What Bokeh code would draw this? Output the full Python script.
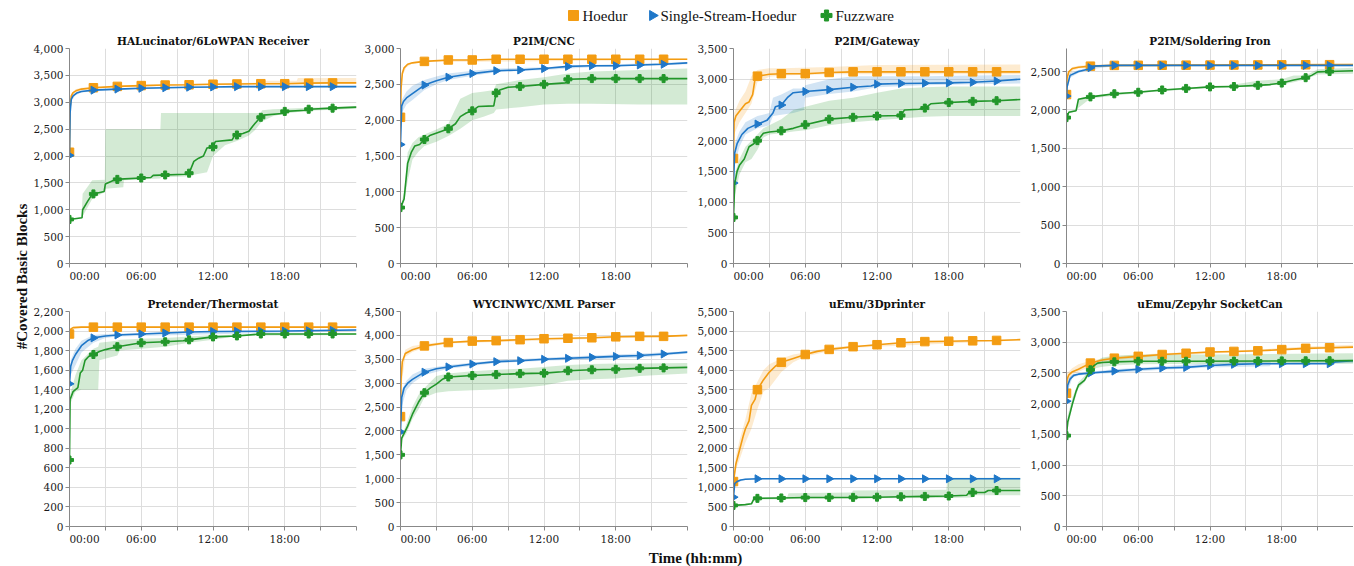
import numpy as np
from bokeh.plotting import figure
from bokeh.layouts import column, row
from bokeh.models import Range1d, FixedTicker, SingleIntervalTicker, NumeralTickFormatter
from bokeh.embed import file_html
from bokeh.resources import INLINE

# ---------------- data (hours, covered basic blocks) ----------------
SERIES = ["Hoedur", "Single-Stream-Hoedur", "Fuzzware"]
MARKER_TIMES = [0, 2, 4, 6, 8, 10, 12, 14, 16, 18, 20, 22]
X_TICKS = [0, 3, 6, 9, 12, 15, 18, 21, 24]
X_LABELS = {0: "\u00a0" * 9 + "00:00", 3: "", 6: "06:00", 9: "", 12: "12:00", 15: "", 18: "18:00", 21: "", 24: ""}

# Panel 1: HALucinator/6LoWPAN Receiver
HAL_HOE_T = [0, 0.05, 0.15, 0.3, 0.6, 1, 2, 4, 6, 8, 10, 12, 14, 16, 18, 20, 22, 24]
HAL_HOE_Y = [2070, 2900, 3120, 3180, 3220, 3245, 3270, 3295, 3310, 3320, 3325, 3335, 3340, 3345, 3345, 3355, 3360, 3360]
HAL_HOE_BT = [0, 0.05, 0.15, 0.5, 1, 2, 4, 8, 12, 16, 16.1, 19, 19.1, 24]
HAL_HOE_LO = [2040, 2800, 3060, 3170, 3220, 3250, 3280, 3305, 3320, 3330, 3330, 3335, 3335, 3340]
HAL_HOE_HI = [2100, 3000, 3160, 3240, 3270, 3290, 3310, 3335, 3355, 3365, 3400, 3400, 3450, 3450]
HAL_SSH_T = [0, 0.05, 0.15, 0.3, 0.6, 1, 2, 4, 6, 8, 10, 12, 14, 16, 18, 20, 22, 24]
HAL_SSH_Y = [2010, 2800, 3060, 3120, 3170, 3200, 3225, 3245, 3260, 3270, 3280, 3285, 3290, 3290, 3290, 3290, 3290, 3290]
HAL_SSH_BT = [0, 0.05, 0.15, 0.5, 1, 2, 4, 8, 12, 24]
HAL_SSH_LO = [1990, 2700, 3020, 3130, 3180, 3205, 3230, 3255, 3270, 3280]
HAL_SSH_HI = [2030, 2900, 3100, 3170, 3215, 3240, 3260, 3285, 3300, 3300]
HAL_FZ_T = [0, 1.05, 1.1, 1.5, 1.9, 2.9, 3.0, 3.8, 4.2, 6.8, 7.0, 9.7, 10.0, 10.4, 10.8, 11.2, 11.5, 12.0, 12.2,
            13.6, 13.8, 14.5, 15.0, 15.3, 15.8, 16.2, 17.8, 18.0, 19.8, 20.0, 22.0, 24.0]
HAL_FZ_Y = [820, 850, 1000, 1150, 1290, 1340, 1480, 1560, 1570, 1600, 1640, 1660, 1680, 1900, 1960, 2000, 2150, 2170,
            2270, 2300, 2380, 2420, 2460, 2550, 2680, 2760, 2790, 2830, 2850, 2870, 2890, 2910]
HAL_FZ_BT = [0, 1.0, 1.1, 1.9, 2.95, 3.0, 4.5, 4.55, 7.6, 7.65, 9.7, 10.4, 11.5, 12.0, 13.0, 14.0, 15.0, 15.5,
             16.0, 16.1, 17.0, 18.0, 20.0, 24.0]
HAL_FZ_LO = [820, 845, 880, 1200, 1330, 1390, 1420, 1550, 1580, 1600, 1620, 1650, 1700, 2000, 2200, 2280, 2380, 2480,
             2620, 2640, 2740, 2790, 2840, 2880]
HAL_FZ_HI = [820, 860, 1300, 1550, 1560, 2500, 2500, 2500, 2500, 2800, 2800, 2800, 2800, 2800, 2800, 2800, 2800, 2800,
             2800, 2850, 2870, 2880, 2900, 2930]

# Panel 2: P2IM/CNC
CNC_HOE_T = [0, 0.05, 0.15, 0.3, 0.6, 1, 2, 4, 6, 8, 12, 16, 20, 24]
CNC_HOE_Y = [2040, 2450, 2650, 2730, 2780, 2800, 2820, 2840, 2840, 2850, 2850, 2850, 2850, 2850]
CNC_HOE_BT = [0, 0.05, 0.15, 0.5, 1, 2, 24]
CNC_HOE_LO = [2020, 2400, 2620, 2740, 2790, 2810, 2840]
CNC_HOE_HI = [2060, 2500, 2680, 2780, 2810, 2830, 2860]
CNC_SSH_T = [0, 0.1, 0.25, 0.5, 1, 1.5, 2, 3, 4, 6, 8, 10, 12, 14, 16, 18, 20, 22, 24]
CNC_SSH_Y = [1660, 2200, 2260, 2310, 2370, 2430, 2490, 2550, 2600, 2650, 2690, 2700, 2720, 2750, 2760, 2760, 2770, 2780, 2800]
CNC_SSH_BT = [0, 0.1, 0.5, 1, 2, 3, 4, 6, 8, 12, 16, 24]
CNC_SSH_LO = [1650, 2100, 2220, 2280, 2420, 2500, 2560, 2620, 2670, 2700, 2740, 2780]
CNC_SSH_HI = [1680, 2280, 2400, 2480, 2560, 2610, 2650, 2690, 2720, 2740, 2770, 2810]
CNC_FZ_T = [0, 0.3, 0.6, 0.9, 1.2, 1.6, 2.0, 2.5, 3.5, 4.0, 4.6, 5.0, 5.5, 6.0, 6.5, 7.8, 8.0, 8.3, 9.0, 10, 12,
            13.8, 14.0, 16, 24]
CNC_FZ_Y = [780, 900, 1400, 1550, 1640, 1660, 1730, 1790, 1850, 1880, 1950, 2050, 2100, 2130, 2190, 2200, 2380, 2420,
            2460, 2470, 2500, 2520, 2570, 2580, 2580]
CNC_FZ_BT = [0, 0.3, 0.6, 1, 1.5, 2, 3, 4, 5, 6, 7, 7.8, 8, 10, 12, 14, 16, 20, 24]
CNC_FZ_LO = [770, 850, 1150, 1450, 1560, 1640, 1700, 1780, 1880, 2000, 2050, 2100, 2150, 2180, 2220, 2230, 2230, 2220, 2220]
CNC_FZ_HI = [790, 1000, 1550, 1680, 1760, 1800, 1870, 1950, 2300, 2380, 2400, 2420, 2500, 2560, 2600, 2650, 2680, 2700, 2720]

# Panel 3: P2IM/Gateway
GW_HOE_T = [0, 0.05, 0.2, 0.5, 1, 1.3, 1.6, 1.8, 2, 3, 4, 6, 8, 10, 24]
GW_HOE_Y = [1710, 2300, 2400, 2480, 2600, 2630, 2750, 3000, 3050, 3080, 3090, 3090, 3110, 3120, 3120]
GW_HOE_BT = [0, 0.05, 0.5, 1, 1.5, 2, 3, 4, 8, 12, 24]
GW_HOE_LO = [1700, 2100, 2300, 2450, 2600, 2950, 3040, 3060, 3080, 3080, 3080]
GW_HOE_HI = [1720, 2450, 2650, 2800, 3050, 3150, 3180, 3180, 3200, 3230, 3240]
GW_SSH_T = [0, 0.1, 0.3, 0.7, 1.2, 2, 2.8, 3.3, 3.5, 4, 4.5, 5, 6, 8, 10, 11.5, 12, 14, 16, 18, 20, 22, 24]
GW_SSH_Y = [1310, 1800, 1950, 2100, 2200, 2270, 2330, 2450, 2550, 2580, 2700, 2780, 2800, 2830, 2870, 2890, 2920,
            2930, 2935, 2940, 2950, 2970, 3000]
GW_SSH_BT = [0, 0.1, 0.5, 1, 2, 3, 3.3, 4, 5, 5.9, 6, 8, 10, 12, 16, 20, 24]
GW_SSH_LO = [1300, 1600, 1900, 2100, 2200, 2250, 2400, 2420, 2450, 2500, 2700, 2760, 2800, 2870, 2900, 2920, 2930]
GW_SSH_HI = [1320, 1950, 2150, 2300, 2400, 2450, 2700, 2750, 2850, 2850, 2900, 3000, 3050, 3050, 3050, 3060, 3070]
GW_FZ_T = [0, 0.1, 0.3, 0.5, 0.9, 1.3, 1.7, 2, 2.5, 3, 4, 5, 6, 8, 10, 12, 14, 14.3, 15.5, 16, 16.5, 18, 20, 22, 24]
GW_FZ_Y = [750, 1300, 1500, 1600, 1700, 1900, 1950, 2000, 2120, 2140, 2160, 2200, 2260, 2350, 2380, 2400, 2410, 2500,
           2510, 2530, 2600, 2620, 2640, 2650, 2670]
GW_FZ_BT = [0, 0.1, 0.5, 1, 1.5, 2, 2.5, 3, 4, 5, 6, 8, 10, 12, 14, 16, 18, 24]
GW_FZ_LO = [740, 1100, 1450, 1650, 1700, 1850, 2050, 2100, 2120, 2150, 2170, 2250, 2300, 2330, 2360, 2390, 2400, 2400]
GW_FZ_HI = [760, 1450, 1700, 1900, 2000, 2100, 2200, 2250, 2350, 2500, 2550, 2650, 2700, 2780, 2850, 2870, 2880, 2880]

# Panel 4: P2IM/Soldering Iron
SI_HOE_T = [0, 0.05, 0.2, 0.5, 1, 2, 4, 24]
SI_HOE_Y = [2200, 2420, 2500, 2540, 2555, 2570, 2580, 2590]
SI_HOE_BT = [0, 0.05, 0.5, 1, 2, 24]
SI_HOE_LO = [2190, 2380, 2510, 2540, 2560, 2580]
SI_HOE_HI = [2210, 2480, 2560, 2575, 2590, 2600]
SI_SSH_T = [0, 0.05, 0.3, 1, 1.8, 2.2, 4, 24]
SI_SSH_Y = [2180, 2300, 2450, 2500, 2530, 2570, 2580, 2580]
SI_SSH_BT = [0, 0.05, 0.3, 1, 2, 4, 24]
SI_SSH_LO = [2170, 2250, 2420, 2480, 2530, 2570, 2570]
SI_SSH_HI = [2190, 2350, 2480, 2520, 2560, 2590, 2590]
SI_FZ_T = [0, 0.2, 0.8, 1.0, 2, 3, 4, 6, 8, 10, 12, 14, 16, 17, 18, 19, 20, 20.5, 21, 22, 24]
SI_FZ_Y = [1900, 1970, 1990, 2140, 2170, 2190, 2210, 2230, 2260, 2280, 2300, 2305, 2320, 2330, 2350, 2390, 2420,
           2450, 2495, 2500, 2510]
SI_FZ_BT = [0, 0.2, 0.8, 1.0, 2, 6, 12, 14, 16, 18, 19, 20, 21, 24]
SI_FZ_LO = [1890, 1960, 1980, 2030, 2150, 2220, 2290, 2295, 2310, 2330, 2360, 2400, 2460, 2470]
SI_FZ_HI = [1910, 1990, 2000, 2150, 2180, 2245, 2310, 2330, 2380, 2400, 2450, 2450, 2530, 2550]

# Panel 5: Pretender/Thermostat
TH_HOE_T = [0, 0.1, 0.3, 1, 24]
TH_HOE_Y = [1970, 2020, 2035, 2040, 2040]
TH_HOE_BT = [0, 0.1, 0.3, 1, 24]
TH_HOE_LO = [1960, 2005, 2025, 2032, 2032]
TH_HOE_HI = [1980, 2030, 2045, 2048, 2048]
TH_SSH_T = [0, 0.1, 0.25, 0.5, 1, 1.5, 2, 3, 4, 6, 8, 10, 12, 18, 24]
TH_SSH_Y = [1460, 1640, 1700, 1760, 1850, 1900, 1930, 1950, 1960, 1970, 1980, 1990, 1995, 2000, 2010]
TH_SSH_BT = [0, 0.1, 0.5, 1, 2, 3, 4, 24]
TH_SSH_LO = [1450, 1550, 1650, 1780, 1880, 1930, 1945, 2000]
TH_SSH_HI = [1470, 1700, 1820, 1900, 1960, 1970, 1975, 2020]
TH_FZ_T = [0, 0.05, 0.3, 0.7, 0.9, 1.1, 1.3, 1.6, 2, 2.5, 3, 4, 5, 6, 8, 9.5, 10, 12, 14, 16, 24]
TH_FZ_Y = [680, 1300, 1380, 1420, 1570, 1600, 1700, 1740, 1760, 1790, 1810, 1840, 1860, 1880, 1890, 1900, 1910,
           1940, 1950, 1970, 1970]
TH_FZ_BT = [0, 0.05, 0.5, 1, 2, 2.4, 2.5, 4, 4.2, 6, 8, 10, 12, 13, 14, 24]
TH_FZ_LO = [670, 1250, 1380, 1400, 1400, 1400, 1700, 1750, 1800, 1820, 1840, 1880, 1910, 1930, 1950, 1960]
TH_FZ_HI = [690, 1350, 1550, 1700, 1820, 1840, 1880, 1900, 1910, 1920, 1930, 1945, 1960, 1960, 1965, 1975]

# Panel 6: WYCINWYC/XML Parser
XML_HOE_T = [0, 0.05, 0.15, 0.4, 1, 2, 4, 6, 8, 10, 12, 14, 16, 18, 20, 22, 24]
XML_HOE_Y = [2300, 3100, 3450, 3620, 3700, 3780, 3850, 3880, 3890, 3910, 3930, 3940, 3950, 3970, 3980, 3980, 4000]
XML_HOE_BT = [0, 0.05, 0.4, 1, 2, 4, 24]
XML_HOE_LO = [2280, 2900, 3550, 3650, 3740, 3830, 3985]
XML_HOE_HI = [2320, 3300, 3700, 3780, 3820, 3870, 4015]
XML_SSH_T = [0, 0.1, 0.3, 0.6, 1, 2, 3, 4, 6, 8, 10, 12, 14, 16, 18, 20, 22, 24]
XML_SSH_Y = [1980, 2700, 2900, 3000, 3080, 3230, 3300, 3340, 3400, 3450, 3470, 3500, 3520, 3540, 3560, 3580, 3610, 3650]
XML_SSH_BT = [0, 0.1, 0.5, 1, 2, 4, 8, 12, 16, 20, 24]
XML_SSH_LO = [1970, 2500, 2850, 3000, 3170, 3300, 3420, 3470, 3500, 3530, 3620]
XML_SSH_HI = [1990, 2850, 3050, 3180, 3300, 3380, 3480, 3530, 3580, 3620, 3670]
XML_FZ_T = [0, 0.1, 0.3, 0.6, 1, 1.5, 2, 2.5, 3, 3.5, 4, 6, 8, 10, 12, 13.5, 14, 16, 18, 20, 22, 24]
XML_FZ_Y = [1500, 1850, 1950, 2100, 2350, 2600, 2800, 2900, 2980, 3080, 3130, 3160, 3180, 3200, 3210, 3240, 3260,
            3280, 3290, 3310, 3320, 3330]
XML_FZ_BT = [0, 0.1, 0.5, 1, 1.5, 2, 3, 4, 6, 8, 10, 12, 14, 16, 18, 20, 24]
XML_FZ_LO = [1490, 1800, 1950, 2250, 2450, 2700, 2800, 2830, 2850, 2870, 2900, 2950, 3050, 3080, 3100, 3150, 3200]
XML_FZ_HI = [1510, 1900, 2150, 2500, 2750, 2900, 3150, 3200, 3250, 3280, 3300, 3340, 3380, 3400, 3410, 3410, 3420]

# Panel 7: uEmu/3Dprinter
PR_HOE_T = [0, 0.2, 0.5, 0.8, 1.0, 1.3, 1.5, 1.8, 2, 2.5, 3, 3.5, 4, 5, 6, 7, 8, 10, 12, 14, 16, 18, 20, 22, 24]
PR_HOE_Y = [1150, 1600, 1950, 2300, 2500, 2700, 3100, 3250, 3500, 3750, 3950, 4100, 4200, 4300, 4400, 4480, 4530,
            4600, 4650, 4700, 4730, 4740, 4750, 4760, 4780]
PR_HOE_BT = [0, 0.2, 0.5, 1, 1.5, 2, 2.5, 3, 4, 5, 6, 8, 10, 24]
PR_HOE_LO = [1140, 1450, 1700, 2150, 2500, 3000, 3450, 3550, 3950, 4200, 4350, 4480, 4570, 4760]
PR_HOE_HI = [1160, 1800, 2200, 2750, 3400, 3700, 4000, 4150, 4300, 4400, 4450, 4580, 4630, 4800]
PR_SSH_T = [0, 0.1, 0.3, 0.6, 1, 2, 24]
PR_SSH_Y = [750, 1100, 1150, 1190, 1210, 1220, 1220]
PR_SSH_BT = [0, 0.1, 0.3, 1, 2, 24]
PR_SSH_LO = [740, 1050, 1120, 1195, 1210, 1210]
PR_SSH_HI = [760, 1150, 1180, 1225, 1230, 1230]
PR_FZ_T = [0, 1.0, 1.5, 1.7, 2, 4, 6, 10, 12, 14, 16, 18, 19.5, 19.7, 21, 21.3, 24]
PR_FZ_Y = [540, 560, 580, 700, 720, 730, 740, 745, 750, 760, 770, 780, 800, 870, 870, 920, 920]
PR_FZ_BT = [0, 1.5, 1.7, 4.5, 4.6, 9.9, 10, 17.8, 17.9, 20, 20.1, 24]
PR_FZ_LO = [530, 570, 690, 700, 710, 720, 720, 730, 730, 740, 800, 800]
PR_FZ_HI = [550, 600, 740, 760, 850, 870, 920, 940, 1250, 1250, 1250, 1250]

# Panel 8: uEmu/Zepyhr SocketCan
SC_HOE_T = [0, 0.05, 0.2, 0.5, 1, 2, 3, 4, 6, 8, 10, 12, 14, 16, 18, 20, 22, 24]
SC_HOE_Y = [2170, 2400, 2470, 2520, 2560, 2660, 2710, 2740, 2770, 2800, 2820, 2840, 2850, 2860, 2880, 2900, 2910, 2920]
SC_HOE_BT = [0, 0.05, 0.5, 1, 2, 4, 8, 16, 20, 24]
SC_HOE_LO = [2160, 2300, 2480, 2520, 2600, 2710, 2780, 2850, 2880, 2900]
SC_HOE_HI = [2180, 2500, 2580, 2640, 2700, 2770, 2820, 2880, 2930, 2960]
SC_SSH_T = [0, 0.1, 0.3, 0.6, 1, 2, 4, 6, 8, 10, 12, 14, 16, 22, 22.5, 24]
SC_SSH_Y = [2040, 2300, 2400, 2460, 2480, 2500, 2530, 2560, 2580, 2590, 2620, 2640, 2650, 2650, 2680, 2700]
SC_SSH_BT = [0, 0.1, 0.5, 1, 2, 4, 8, 12, 17, 17.1, 24]
SC_SSH_LO = [2030, 2200, 2420, 2460, 2480, 2500, 2550, 2590, 2610, 2640, 2660]
SC_SSH_HI = [2050, 2400, 2480, 2500, 2520, 2560, 2610, 2660, 2690, 2660, 2720]
SC_FZ_T = [0, 0.1, 0.3, 0.5, 0.8, 1.0, 1.5, 2.0, 2.3, 2.6, 3, 4, 6, 10, 24]
SC_FZ_Y = [1480, 1700, 1850, 2000, 2200, 2300, 2380, 2550, 2620, 2660, 2670, 2680, 2690, 2690, 2700]
SC_FZ_BT = [0, 0.1, 0.5, 1, 1.5, 2, 2.5, 3, 4, 6, 12, 24]
SC_FZ_LO = [1470, 1600, 1950, 2250, 2350, 2500, 2580, 2600, 2620, 2640, 2650, 2650]
SC_FZ_HI = [1490, 1800, 2100, 2350, 2450, 2600, 2700, 2750, 2780, 2800, 2800, 2820]

TITLES = ["HALucinator/6LoWPAN Receiver", "P2IM/CNC", "P2IM/Gateway", "P2IM/Soldering Iron",
          "Pretender/Thermostat", "WYCINWYC/XML Parser", "uEmu/3Dprinter", "uEmu/Zepyhr SocketCan"]
Y_MAX = [4000, 3000, 3500, 2800, 2200, 4500, 5500, 3500]
Y_STEP = [500, 500, 500, 500, 200, 500, 500, 500]

# ---------------- styling ----------------
FONT = "DejaVu Serif"
COLORS = ["#F39C12", "#1F77C8", "#22962A"]
MARKERS = ["square", "triangle", "plus"]
MSIZES = [8.5, 8, 8]
MANGLES = [0, -np.pi / 2, 0]
GRID = "#DDDDDD"
AXIS = "#888888"
FRAME_W, FRAME_H = 287, 215

LEFT_B = [40, 40, 40, 40]
RIGHT_B = [4, 6, 6, 0]
YLAB_W = 29
LEGEND_H = 28
TOP_ROW = (20, 28)      # top / bottom borders
BOT_ROW = (20, 20)
XLAB_H = 20

# legend placement (screen px in the legend strip)
LEGEND_MARK_X = [573, 652, 826]
LEGEND_TEXT_X = [582, 660, 835]
LEGEND_SIZES = [10, 10, 11]


def panel_series(prefix):
    g = globals()
    out = []
    for key in ["HOE", "SSH", "FZ"]:
        out.append(dict(t=g[f"{prefix}_{key}_T"], y=g[f"{prefix}_{key}_Y"], bt=g[f"{prefix}_{key}_BT"],
                        lo=g[f"{prefix}_{key}_LO"], hi=g[f"{prefix}_{key}_HI"]))
    return out


PANELS = [panel_series(p) for p in ["HAL", "CNC", "GW", "SI", "TH", "XML", "PR", "SC"]]


def make_panel(i, borders):
    col = i % 4
    p = figure(frame_width=FRAME_W, frame_height=FRAME_H,
               x_range=Range1d(0, 24), y_range=Range1d(0, Y_MAX[i]),
               output_backend="svg", toolbar_location=None,
               min_border_left=LEFT_B[col], min_border_right=RIGHT_B[col],
               min_border_top=borders[0], min_border_bottom=borders[1],
               title=TITLES[i])
    p.outline_line_color = None
    p.background_fill_color = "white"
    p.title.align = "center"
    p.title.text_font = FONT
    p.title.text_font_style = "bold"
    p.title.text_font_size = "10.5px"
    p.title.text_color = "#111111"
    p.title.standoff = 3

    xt = FixedTicker(ticks=X_TICKS)
    p.xaxis.ticker = xt
    p.xgrid.ticker = xt
    p.xaxis.major_label_overrides = X_LABELS
    yt = SingleIntervalTicker(interval=Y_STEP[i])
    p.yaxis.ticker = yt
    p.ygrid.ticker = yt
    p.yaxis.formatter = NumeralTickFormatter(format="0,0")
    for ax in (p.xaxis[0], p.yaxis[0]):
        ax.axis_line_color = AXIS
        ax.major_tick_line_color = AXIS
        ax.major_tick_out = 4
        ax.major_tick_in = 0
        ax.minor_tick_line_color = None
        ax.major_label_text_font = FONT
        ax.major_label_text_font_size = "10.5px"
        ax.major_label_text_color = "#1a1a1a"
        ax.major_label_standoff = 2
    p.xgrid.grid_line_color = GRID
    p.ygrid.grid_line_color = GRID

    series = PANELS[i]
    for s, c in zip(series, COLORS):
        p.varea(x=s["bt"], y1=s["lo"], y2=s["hi"], fill_color=c, fill_alpha=0.2)
    for s, c, m, ms, ma in zip(series, COLORS, MARKERS, MSIZES, MANGLES):
        p.line(s["t"], s["y"], line_color=c, line_width=1.6)
        my = np.interp(MARKER_TIMES, s["t"], s["y"])
        p.scatter(MARKER_TIMES, my, marker=m, size=ms, angle=ma, fill_color=c, line_color=c)
    return p


top_row = row([make_panel(i, TOP_ROW) for i in range(4)])
bottom_row = row([make_panel(i, BOT_ROW) for i in range(4, 8)])

TOTAL_W = YLAB_W + sum(LEFT_B) + sum(RIGHT_B) + 4 * FRAME_W
ROWS_H = TOP_ROW[0] + TOP_ROW[1] + BOT_ROW[0] + BOT_ROW[1] + 2 * FRAME_H


def strip(w, h):
    f = figure(width=w, height=h, x_range=Range1d(0, w), y_range=Range1d(0, h),
               output_backend="svg", toolbar_location=None, min_border=0)
    f.axis.visible = False
    f.grid.visible = False
    f.outline_line_color = None
    return f


# legend strip (markers + labels)
lg = strip(TOTAL_W, LEGEND_H)
ly = LEGEND_H - 15
for name, c, m, ma, mx, tx, sz in zip(SERIES, COLORS, MARKERS, MANGLES, LEGEND_MARK_X, LEGEND_TEXT_X, LEGEND_SIZES):
    lg.scatter([mx], [ly], marker=m, size=sz, angle=ma, fill_color=c, line_color=c)
    lg.text(x=[tx], y=[ly], text=[name], text_align="left", text_baseline="middle",
            text_font=FONT, text_font_size="15px", text_color="#111111")

# y axis title strip
yl = strip(YLAB_W, ROWS_H)
yl.text(x=[21], y=[ROWS_H - (276 - LEGEND_H)], text=["#Covered Basic Blocks"], angle=np.pi / 2,
        text_align="center", text_baseline="middle", text_font=FONT,
        text_font_style="bold", text_font_size="15px", text_color="#111111")

# x axis title strip
xl = strip(TOTAL_W, XLAB_H)
xl.text(x=[695], y=[XLAB_H - 10], text=["Time (hh:mm)"], text_align="center", text_baseline="middle",
        text_font=FONT, text_font_style="bold", text_font_size="15px", text_color="#111111")

layout = column(lg, row(yl, column(top_row, bottom_row)), xl)

open("out.html", "w").write(file_html(layout, INLINE))
